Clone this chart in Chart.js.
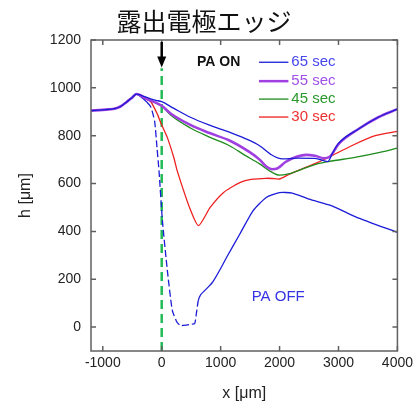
<!DOCTYPE html>
<html>
<head>
<meta charset="utf-8">
<script src="https://cdn.jsdelivr.net/npm/chart.js@4"></script>
<style>
  body { margin: 0; background: #fff; }
  #wrap { width: 417px; height: 405px; }
</style>
</head>
<body>
<div id="wrap"><canvas id="chart" width="417" height="405"></canvas></div>
<script>
// --- DATA ---
const xTicks = [-1000, 0, 1000, 2000, 3000, 4000];
const xTickLabels = ['-1000', '0', '1000', '2000', '3000', '4000'];
const yTicks = [0, 200, 400, 600, 800, 1000, 1200];
const yTickLabels = ['0', '200', '400', '600', '800', '1000', '1200'];

const seriesNames = ['65 sec', '55 sec', '45 sec', '30 sec'];

const x65 = [-1200, -1000, -800, -700, -600, -500, -430, -370, -300, -200, -100, 0, 200, 487, 800, 1158, 1400, 1661, 1850, 2047, 2300, 2600, 2820, 2900, 3000, 3339, 3675, 4000];
const h65 = [905, 908, 913, 922, 940, 960, 974, 971, 964, 955, 948, 942, 915, 877, 845, 814, 790, 758, 722, 703, 706, 705, 692, 728, 768, 828, 877, 911];

const x55 = [-1200, -1000, -800, -700, -600, -500, -430, -370, -300, -200, -100, 0, 151, 487, 800, 1158, 1493, 1661, 1779, 1870, 1960, 2100, 2300, 2450, 2600, 2750, 2850, 3004, 3339, 3675, 4000];
const h55 = [905, 908, 913, 922, 940, 960, 974, 970, 960, 948, 938, 925, 893, 845, 812, 779, 731, 700, 670, 660, 663, 690, 713, 720, 716, 706, 712, 766, 828, 877, 911];

const x45 = [-1200, -1000, -800, -700, -600, -500, -430, -370, -300, -200, -100, 0, 151, 487, 800, 1158, 1400, 1661, 1850, 1997, 2150, 2383, 2612, 2836, 3300, 3700, 4000];
const h45 = [905, 908, 913, 922, 940, 960, 974, 970, 960, 947, 937, 925, 886, 832, 795, 757, 720, 682, 650, 635, 640, 660, 680, 692, 710, 730, 748];

const x30 = [-1200, -1000, -800, -700, -600, -500, -430, -370, -300, -185, -72, -17, 96, 206, 263, 487, 626, 822, 1046, 1326, 1544, 1774, 1879, 1997, 2150, 2332, 2600, 2836, 3222, 3624, 4000];
const h30 = [905, 908, 913, 922, 940, 960, 974, 968, 958, 942, 889, 854, 792, 708, 653, 490, 424, 500, 562, 604, 618, 622, 621, 619, 637, 656, 683, 710, 758, 800, 818];

const xOff = [-1200, -1000, -800, -700, -600, -500, -430, -350, -250, -185, -120, -80, -45, 12, 96, 180, 260, 319, 420, 500, 560, 590, 620, 660, 800, 870, 1000, 1102, 1326, 1549, 1774, 1997, 2215, 2500, 2886, 3300, 4000];
const hOff = [905, 908, 913, 922, 940, 960, 974, 962, 940, 920, 860, 750, 650, 445, 236, 70, 20, 7, 8, 12, 15, 60, 110, 135, 170, 190, 245, 292, 389, 486, 542, 562, 560, 535, 507, 460, 396];

const xEdge = [0, 0];
const hEdge = [-100, 1082];

// --- HELPERS ---
function toPoints(xs, ys) {
    return xs.map((x, i) => ({ x: x, y: ys[i] }));
}

const FONT = '"Liberation Sans", Arial, sans-serif';
const lineColors = ['#1c1cd8', '#a040e0', '#1e8c1e', '#ee2020'];
const textColors = ['#4646ee', '#a050e8', '#2a982a', '#ee3030'];

// frame, inward ticks and annotations
const decorPlugin = {
    id: 'decor',
    afterDraw(chart) {
        const { ctx, chartArea: a, scales: { x, y } } = chart;
        ctx.save();
        // frame
        ctx.strokeStyle = '#606060';
        ctx.lineWidth = 1.5;
        ctx.strokeRect(a.left, a.top, a.right - a.left, a.bottom - a.top);
        // inward ticks
        ctx.beginPath();
        xTicks.forEach(v => {
            const px = x.getPixelForValue(v);
            ctx.moveTo(px, a.bottom); ctx.lineTo(px, a.bottom - 5);
            ctx.moveTo(px, a.top); ctx.lineTo(px, a.top + 5);
        });
        yTicks.forEach(v => {
            const py = y.getPixelForValue(v);
            ctx.moveTo(a.left, py); ctx.lineTo(a.left + 5, py);
            ctx.moveTo(a.right, py); ctx.lineTo(a.right - 5, py);
        });
        ctx.stroke();

        // title
        ctx.fillStyle = '#111';
        ctx.font = '25px "Noto Sans CJK JP", sans-serif';
        ctx.textAlign = 'center';
        ctx.textBaseline = 'middle';
        ctx.fillText('露出電極エッジ', 204, 21);

        // arrow at electrode edge
        const ax = x.getPixelForValue(0);
        const aTop = a.top + 2;
        const aTip = y.getPixelForValue(1085);
        ctx.strokeStyle = '#000';
        ctx.fillStyle = '#000';
        ctx.lineWidth = 2.5;
        ctx.beginPath();
        ctx.moveTo(ax, aTop); ctx.lineTo(ax, aTip - 8);
        ctx.stroke();
        ctx.beginPath();
        ctx.moveTo(ax - 4.5, aTip - 11);
        ctx.lineTo(ax + 4.5, aTip - 11);
        ctx.lineTo(ax, aTip);
        ctx.closePath();
        ctx.fill();

        // PA ON / PA OFF
        ctx.textAlign = 'left';
        ctx.fillStyle = '#111';
        ctx.font = 'bold 14px ' + FONT;
        ctx.fillText('PA ON', x.getPixelForValue(600), y.getPixelForValue(1107));
        ctx.fillStyle = '#3434e4';
        ctx.font = '15px ' + FONT;
        ctx.fillText('PA OFF', x.getPixelForValue(1527), y.getPixelForValue(128));

        // legend
        const rows = [1107, 1028, 953, 878];
        ctx.font = '15px ' + FONT;
        rows.forEach((r, i) => {
            const py = y.getPixelForValue(r);
            ctx.strokeStyle = lineColors[i];
            ctx.lineWidth = i === 1 ? 2.5 : 1.3;
            ctx.beginPath();
            ctx.moveTo(x.getPixelForValue(1650), py);
            ctx.lineTo(x.getPixelForValue(2150), py);
            ctx.stroke();
            ctx.fillStyle = textColors[i];
            ctx.fillText(seriesNames[i], x.getPixelForValue(2200), py);
        });
        ctx.restore();
    }
};

// --- CHART ---
new Chart(document.getElementById('chart'), {
    type: 'scatter',
    data: {
        datasets: [
            { label: seriesNames[0], data: toPoints(x65, h65), borderColor: lineColors[0], borderWidth: 1.3, cubicInterpolationMode: 'monotone' },
            { label: seriesNames[1], data: toPoints(x55, h55), borderColor: lineColors[1], borderWidth: 2.6, cubicInterpolationMode: 'monotone' },
            { label: seriesNames[2], data: toPoints(x45, h45), borderColor: lineColors[2], borderWidth: 1.3, cubicInterpolationMode: 'monotone' },
            { label: seriesNames[3], data: toPoints(x30, h30), borderColor: lineColors[3], borderWidth: 1.3, tension: 0.2 },
            {
                label: 'PA OFF', data: toPoints(xOff, hOff), borderColor: lineColors[0], borderWidth: 1.3, tension: 0.2,
                segment: { borderDash: c => (c.p0.parsed.x > -300 && c.p0.parsed.x < 600) ? [7, 3] : undefined }
            },
            { label: 'edge', data: toPoints(xEdge, hEdge), borderColor: '#22bb55', borderWidth: 2.5, borderDash: [9, 5] }
        ].map(d => Object.assign({ showLine: true, pointRadius: 0, fill: false }, d))
    },
    options: {
        responsive: false,
        animation: false,
        layout: { padding: { top: 40, right: 17, left: 0, bottom: 0 } },
        plugins: { legend: { display: false }, tooltip: { enabled: false } },
        scales: {
            x: {
                type: 'linear', min: -1200, max: 4000,
                afterBuildTicks: s => { s.ticks = xTicks.map(v => ({ value: v })); },
                afterFit: s => { s.height = 54; },
                grid: { display: false, drawTicks: false },
                border: { display: false },
                ticks: {
                    color: '#222', padding: 4, maxRotation: 0,
                    font: { family: FONT, size: 14 },
                    callback: (v, i) => xTickLabels[i]
                },
                title: { display: true, text: 'x [μm]', color: '#222', font: { family: FONT, size: 16 }, padding: { bottom: 2 } }
            },
            y: {
                type: 'linear', min: -100, max: 1200,
                afterBuildTicks: s => { s.ticks = yTicks.map(v => ({ value: v })); },
                afterFit: s => { s.width = 91; },
                grid: { display: false, drawTicks: false },
                border: { display: false },
                ticks: {
                    color: '#222', padding: 10,
                    font: { family: FONT, size: 14 },
                    callback: (v, i) => yTickLabels[i]
                },
                title: { display: true, text: 'h [μm]', color: '#222', font: { family: FONT, size: 16 }, padding: { top: 16 } }
            }
        }
    },
    plugins: [decorPlugin]
});
</script>
</body>
</html>
